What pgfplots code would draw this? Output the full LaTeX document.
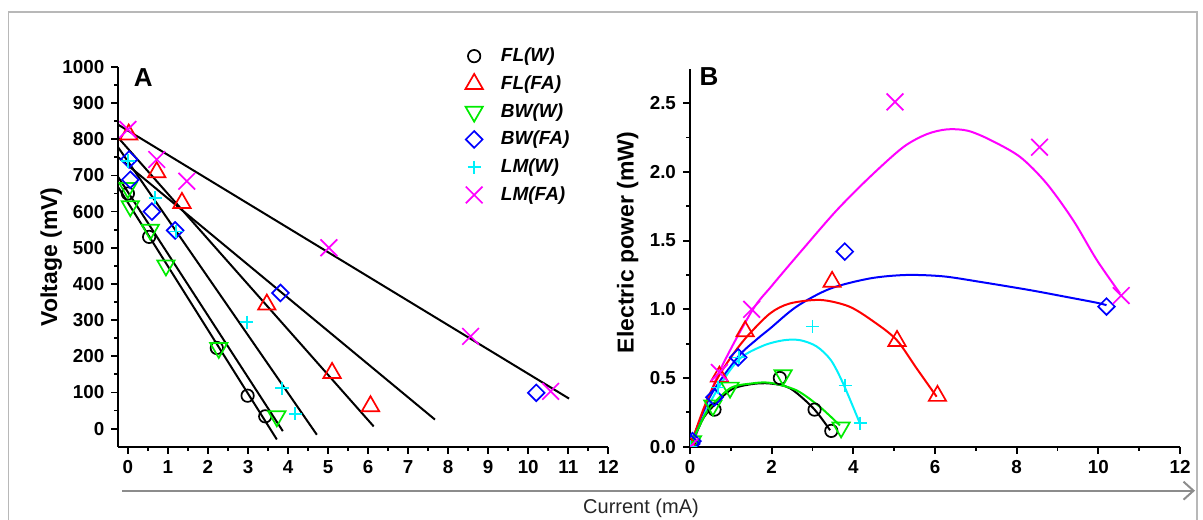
\documentclass[border=0pt]{standalone}
\usepackage{pgfplots}
\pgfplotsset{compat=1.18}
\usepackage{fontspec}
\setmainfont{Liberation Sans}
\usetikzlibrary{arrows.meta}
\definecolor{cgreen}{RGB}{0,235,0}
\definecolor{ccyan}{RGB}{0,240,250}
\definecolor{cmag}{RGB}{255,0,255}
\definecolor{cblue}{RGB}{0,0,255}
\definecolor{cred}{RGB}{255,0,0}
\pgfplotsset{
  myax/.style={
    scale only axis, anchor=south west,
    axis lines*=left,
    axis line style={line width=1pt},
    tick align=outside,
    major tick length=3.5pt, minor tick length=2pt,
    every tick/.style={black, line width=0.9pt},
    tick label style={font=\fontsize{9.4}{11}\selectfont\bfseries},
    /pgf/number format/assume math mode=true,
    /pgf/number format/1000 sep={},
    label style={font=\fontsize{11.5}{13}\selectfont\bfseries},
    clip marker paths=true,
  },
  sFLW/.style={black, mark=o, mark size=3.1pt, line width=0.85pt},
  sFLFA/.style={cred, mark=triangle, mark size=5pt, line width=0.85pt},
  sBWW/.style={cgreen, mark=triangle, mark size=5pt, line width=0.85pt, every mark/.append style={rotate=180}},
  sBWFA/.style={cblue, mark=square, mark size=2.95pt, line width=0.85pt, every mark/.append style={rotate=45}},
  sLMW/.style={ccyan, mark=+, mark size=3.3pt, line width=0.85pt},
  sLMFA/.style={cmag, mark=x, mark size=5.9pt, line width=0.85pt},
}
\begin{document}
\begin{tikzpicture}
\useasboundingbox (0,0) rectangle (601.5pt,259.5pt);
\draw[black!28, line width=0.8pt] (4.15pt,-5pt) -- (4.15pt,253.35pt) -- (598.5pt,253.35pt) -- (598.5pt,-5pt);

% ---------------- Panel A ----------------
\begin{axis}[myax, at={(59.15pt,36.15pt)}, width=245pt, height=189.9pt,
  xmin=-0.24, xmax=12, ymin=-50, ymax=1000,
  xtick={0,1,...,12}, minor x tick num=1,
  ytick={0,100,...,1000}, minor y tick num=1,
  ylabel={Voltage (mV)},
  ylabel style={at={(rel axis cs:-0.137,0.5)}, anchor=center},
  legend style={at={(rel axis cs:0.679,1.062)}, anchor=north west, draw=none, fill=none,
    font=\fontsize{9.5}{10}\selectfont\bfseries\itshape, row sep=1.5pt, inner sep=0pt},
  legend cell align=left,
  legend image code/.code={\path[draw=none,fill=none] (0,0) -- (0.8cm,0); \draw[#1] plot coordinates {(0.4cm,0cm)};},
]
\addplot[black, line width=1pt, forget plot] coordinates {(-0.24,840) (11.02,83)};
\addplot[black, line width=1pt, forget plot] coordinates {(-0.24,804) (6.14,6)};
\addplot[black, line width=1pt, forget plot] coordinates {(-0.24,777) (4.72,-17)};
\addplot[black, line width=1pt, forget plot] coordinates {(-0.24,750) (7.67,25)};
\addplot[black, line width=1pt, forget plot] coordinates {(-0.24,695) (3.87,-7)};
\addplot[black, line width=1pt, forget plot] coordinates {(-0.24,667) (3.72,-30)};

\addplot[sFLW, only marks] coordinates {(0,650) (0.53,530) (2.22,223) (2.99,91) (3.43,34)};
\addlegendentry{FL(W)}
\addplot[sFLFA, only marks] coordinates {(0.02,813) (0.72,709) (1.35,624) (3.47,343) (5.1,154) (6.06,62)};
\addlegendentry{FL(FA)}
\addplot[sBWW, only marks] coordinates {(0,665) (0.06,615) (0.56,550) (0.95,451) (2.27,223) (3.72,34)};
\addlegendentry{BW(W)}
\addplot[sBWFA, only marks] coordinates {(0.03,744) (0.06,688) (0.6,600) (1.18,548) (3.81,375) (10.2,99)};
\addlegendentry{BW(FA)}
\addplot[sLMW, only marks] coordinates {(0,740) (0.68,638) (1.2,545) (2.97,294) (3.85,112) (4.18,41)};
\addlegendentry{LM(W)}
\addplot[sLMFA, only marks] coordinates {(0,827) (0.72,744) (1.47,684) (5.02,500) (8.56,255) (10.56,103)};
\addlegendentry{LM(FA)}
\end{axis}

% ---------------- Panel B ----------------
\begin{axis}[myax, at={(345pt,36.15pt)}, width=245pt, height=188.9pt,
  xmin=0, xmax=12, ymin=0, ymax=2.75,
  xtick={0,2,...,12}, minor x tick num=1,
  ytick={0,0.5,...,2.5}, minor y tick num=1,
  yticklabel style={/pgf/number format/.cd, fixed, fixed zerofill, precision=1},
  ylabel={Electric power (mW)},
  ylabel style={at={(rel axis cs:-0.127,0.54)}, anchor=center},
]
% fitted curves
\addplot[cmag, line width=1pt, smooth] coordinates {(0,-0.05) (0.65,0.5) (1.5,0.98) (2.0,1.17) (2.77,1.44) (3.59,1.72) (4.41,1.965) (5.22,2.18) (5.8,2.275) (6.3,2.31) (6.8,2.3) (7.34,2.235) (8.08,2.11) (8.73,1.917) (9.38,1.65) (9.96,1.36) (10.53,1.116)};
\addplot[cblue, line width=1pt, smooth] coordinates {(0,0) (0.49,0.364) (1.18,0.655) (1.63,0.78) (1.96,0.86) (2.61,1.02) (3.43,1.15) (4.41,1.225) (5.3,1.25) (6.2,1.24) (7.1,1.2) (8.32,1.14) (9.22,1.09) (9.96,1.048) (10.2,1.03)};
\addplot[cred, line width=1pt, smooth] coordinates {(0,0) (0.35,0.29) (0.65,0.485) (1.0,0.65) (1.39,0.80) (1.96,0.97) (2.45,1.043) (3.2,1.068) (3.9,1.02) (4.5,0.91) (5.06,0.777) (5.55,0.57) (6.04,0.364)};
\addplot[ccyan, line width=1pt, smooth] coordinates {(0,0) (0.57,0.364) (1.18,0.63) (1.79,0.735) (2.3,0.775) (2.7,0.775) (3.1,0.73) (3.45,0.63) (3.75,0.46) (4.16,0.17)};
\addplot[black, line width=1pt, smooth] coordinates {(0,0) (0.2,0.13) (0.41,0.243) (0.98,0.41) (1.5,0.455) (1.96,0.46) (2.45,0.425) (3.02,0.28) (3.43,0.12)};
\addplot[cgreen, line width=1pt, smooth] coordinates {(0,0) (0.2,0.13) (0.45,0.27) (0.98,0.425) (1.5,0.46) (1.96,0.465) (2.61,0.41) (3.18,0.29) (3.67,0.155)};
% data
\addplot[sFLW, only marks] coordinates {(0,0) (0.6,0.27) (2.2,0.5) (3.05,0.27) (3.46,0.115)};
\addplot[sFLFA, only marks] coordinates {(0,0) (0.72,0.51) (1.35,0.84) (3.48,1.2) (5.07,0.77) (6.06,0.37)};
\addplot[sBWW, only marks] coordinates {(0,0) (0.06,0.04) (0.56,0.3) (0.98,0.43) (2.28,0.52) (3.7,0.14)};
\addplot[sBWFA, only marks] coordinates {(0.03,0.02) (0.06,0.04) (0.6,0.36) (1.18,0.65) (3.79,1.42) (10.2,1.02)};
\addplot[sLMW, only marks] coordinates {(0,0) (0.68,0.43) (1.2,0.65) (3.0,0.875) (3.8,0.445) (4.17,0.17)};
\addplot[sLMFA, only marks] coordinates {(0,0) (0.72,0.54) (1.51,1.0) (5.02,2.51) (8.56,2.18) (10.56,1.1)};
\end{axis}

\node[font=\fontsize{13}{15}\selectfont\bfseries] at (71.65pt,220.6pt) {A};
\node[font=\fontsize{13}{15}\selectfont\bfseries] at (354.5pt,221pt) {B};
\draw[black!45, line width=1pt, -{Straight Barb[length=5pt,width=9pt,line width=1pt]}] (61pt,14.15pt) -- (597.5pt,14.15pt);
\node[font=\fontsize{10}{12}\selectfont, black!85] at (320.5pt,5.5pt) {Current (mA)};
\end{tikzpicture}
\end{document}
